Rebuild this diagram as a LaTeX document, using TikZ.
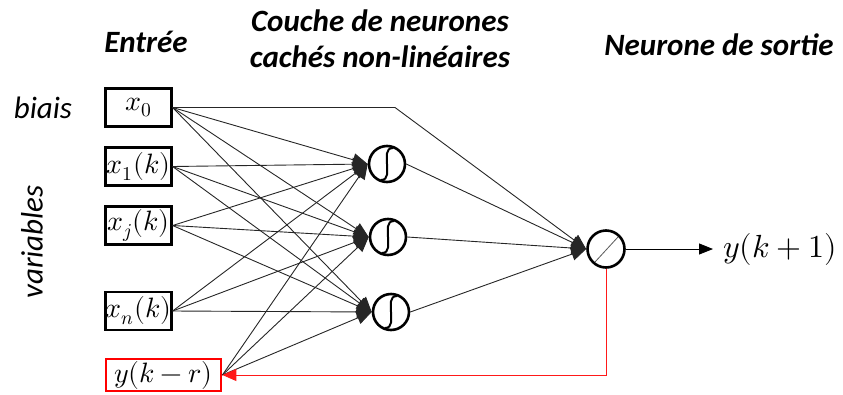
\documentclass[tikz,border=0pt]{standalone}
\usepackage{fontspec}
\usepackage{unicode-math}
\setmainfont{Carlito}
\setmathfont{Latin Modern Math}
\usetikzlibrary{arrows.meta}
\begin{document}
\begin{tikzpicture}[x=1pt,y=-1pt,
  inbox/.style={draw, line width=2.2pt, minimum width=66pt, minimum height=38pt, inner sep=0pt, font=\fontsize{28}{30}\selectfont},
  hid/.style={draw, circle, line width=2.6pt, minimum size=36pt, inner sep=0pt},
  conn/.style={line width=0.9pt, draw=black!85, -{Triangle[length=15pt,width=13pt]}},
  title/.style={font=\fontsize{31}{36}\selectfont\bfseries\itshape, align=center},
  side/.style={font=\fontsize{31}{36}\selectfont\itshape},
  sig/.style={line width=2pt}
]
\useasboundingbox (0,0) rectangle (843,394);
% titles
\node[title] (tin) at (146,42) {Entrée};
\node[title] (thid) at (380,39) {Couche de neurones\\cachés non-linéaires};
\node[title] (tout) at (719,45) {Neurone de sortie};
\node[side] (bias) at (43,108) {biais};
\node[side, rotate=90] (var) at (32,242) {variables};
% inputs
\node[inbox] (x0) at (138.5,107.5) {$x_0$};
\node[inbox] (x1) at (138.5,166.5) {$x_1(k)$};
\node[inbox] (xj) at (138.5,225.5) {$x_j(k)$};
\node[inbox] (xn) at (138.5,311) {$x_n(k)$};
\node[inbox, draw=red, minimum width=115pt, minimum height=32pt, line width=2.8pt] (yr) at (163.5,375) {$y(k-r)$};
% hidden neurons
\node[hid] (h1) at (387,164) {};
\node[hid] (h2) at (388,237) {};
\node[hid] (h3) at (391,312) {};
\node[hid, minimum size=37pt] (o) at (606,249) {};
\foreach \h in {h1,h2,h3}
  \draw[sig] ([shift={(6,-16)}]\h.center) .. controls +(-8,0) and +(0,-7) .. (\h.center) .. controls +(0,7) and +(8,0) .. ([shift={(-6,16)}]\h.center);
\draw[line width=0.8pt, black!65] ([shift={(-11,13)}]o.center) -- ([shift={(12,-12)}]o.center);
% input -> hidden
\foreach \i in {x0,x1,xj,xn,yr}
  \foreach \h in {h1,h2,h3}
    \draw[conn] (\i.east) -- (\h.west);
% hidden -> output
\foreach \h in {h1,h2,h3}
  \draw[conn] (\h.east) -- (o.west);
\coordinate (bend) at (395,107.5);
\draw[conn] (x0.east) -- (bend) -- (o.west);
% output
\node[anchor=west, inner xsep=10pt, inner ysep=0pt, font=\fontsize{32}{34}\selectfont] (yout) at (713,249) {$y(k+1)$};
\draw[line width=0.9pt, -{Triangle[length=14pt,width=11pt]}] (o.east) -- (yout.west);
% feedback
\draw[red!90, line width=1pt, -{Triangle[length=14pt,width=12pt]}] (o.south) -- (o.south |- yr.east) -- (yr.east);
\end{tikzpicture}
\end{document}
